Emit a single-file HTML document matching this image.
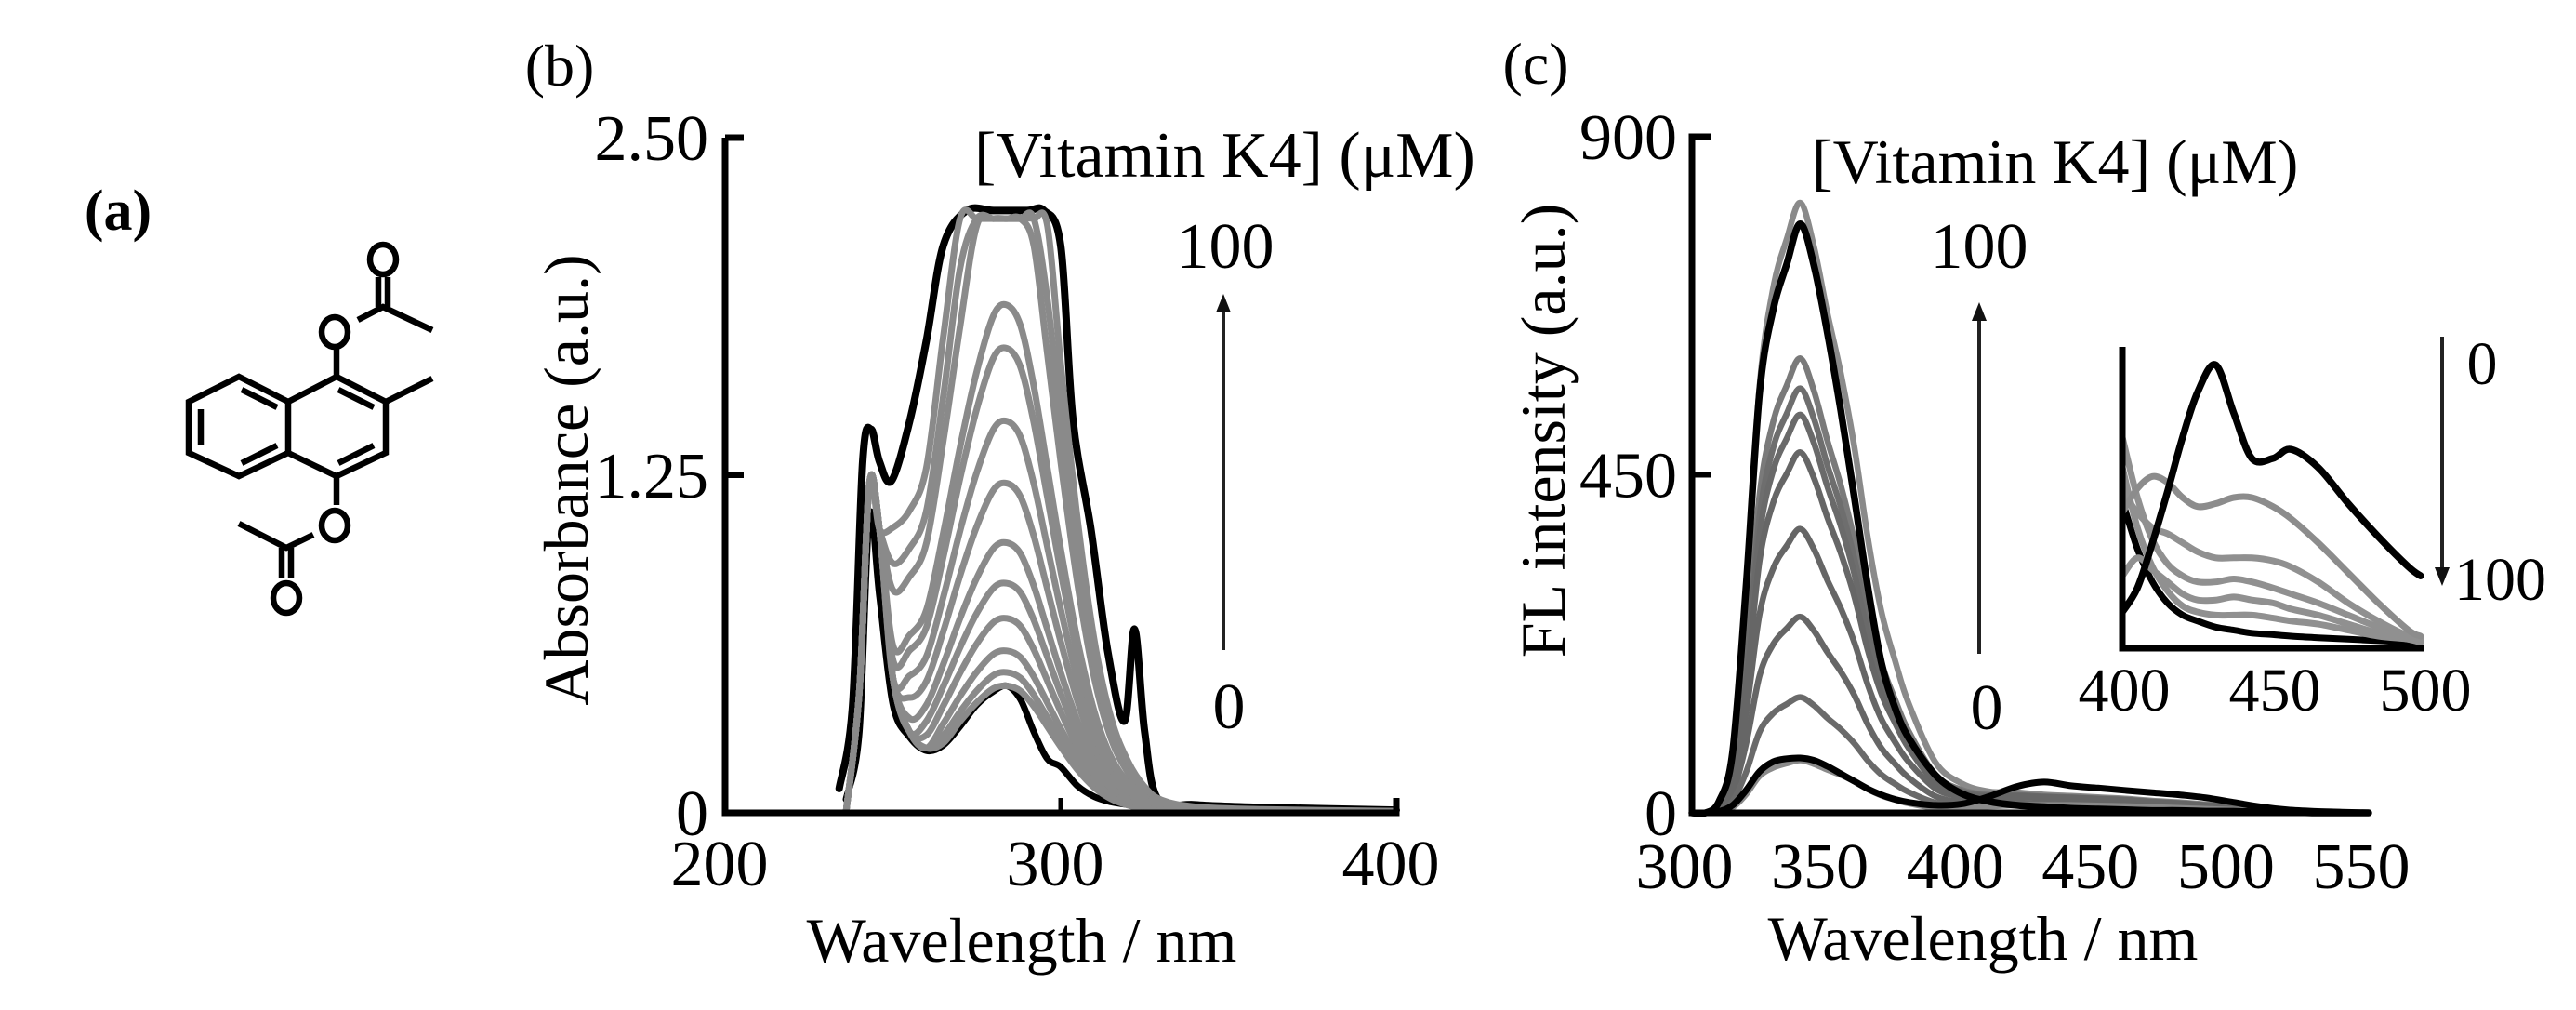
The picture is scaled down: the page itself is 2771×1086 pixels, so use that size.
<!DOCTYPE html>
<html><head><meta charset="utf-8"><style>
html,body{margin:0;padding:0;background:#fff;}
svg{display:block;font-family:"Liberation Serif",serif;}
</style></head><body>
<svg id="fig" width="2771" height="1086" viewBox="0 0 2771 1086" xmlns="http://www.w3.org/2000/svg">
<g id="struct" stroke="#000" stroke-width="6.5" fill="none" stroke-linecap="butt">
  <text x="127" y="247" font-size="62" font-weight="bold" text-anchor="middle" stroke="none" fill="#000">(a)</text>
  <polygon points="257,405 203,432 203,487 257,512 310,487 310,432"/>
  <polyline points="310,432 362,405 415,432 415,487 362,512 310,487"/>
  <line x1="260" y1="419" x2="298" y2="438"/>
  <line x1="216" y1="440" x2="216" y2="479"/>
  <line x1="260" y1="498" x2="298" y2="479"/>
  <line x1="364" y1="419" x2="402" y2="438"/>
  <line x1="364" y1="498" x2="402" y2="479"/>
  <line x1="415" y1="432" x2="465" y2="407"/>
  <line x1="362" y1="405" x2="362" y2="374"/>
  <ellipse cx="360" cy="357" rx="14" ry="16"/>
  <polyline points="385,344 412,330 465,355"/>
  <line x1="407" y1="330" x2="407" y2="298"/><line x1="417" y1="330" x2="417" y2="298"/>
  <ellipse cx="412" cy="279" rx="14" ry="16"/>
  <line x1="362" y1="512" x2="362" y2="543"/>
  <ellipse cx="360" cy="565" rx="14" ry="16"/>
  <polyline points="337,575 308,589 257,563"/>
  <line x1="303" y1="589" x2="303" y2="622"/><line x1="313" y1="589" x2="313" y2="622"/>
  <ellipse cx="308" cy="643" rx="14" ry="16"/>
</g>
<g id="panelB"></g>
<g id="panelC"></g>
<g id="inset"></g>
</svg>
<script>
// ---------- Panel (b) data ----------
const wlB = [236,240,243,246,250,255,260,265,270,275,280,284,288,292,296,300,305,310,315,320,325,330,340,360,400];
const profileB = [0,0.1,0.2,0.3,0.33,0.35,0.4,0.55,0.72,0.87,0.98,1,0.96,0.84,0.68,0.52,0.34,0.2,0.11,0.06,0.03,0.015,0.007,0.004,0.002];
const spikeB = [0,0.45,1.22,1.05,0.5,0.3,0.24,0,0,0,0,0,0,0,0,0,0,0,0,0,0,0,0,0,0];
const peaksB = [0.47,0.52,0.6,0.72,0.85,1.0,1.22,1.45,1.72,1.88,2.5,2.8,3.2];
const blackLowB = [0.05,0.3,1.1,0.8,0.4,0.28,0.23,0.25,0.32,0.4,0.45,0.47,0.42,0.3,0.2,0.17,0.1,0.06,0.04,0.03,0.02,0.01,0.01,0.01,0.01];
const wlBlackB = [234,238,241,243.5,246,249.6,255,260,265,272,280,290,295,300,303.6,309,314,319,322,325,329,340,360,400];
const blackHighB = [0.09,0.4,1.3,1.42,1.3,1.23,1.45,1.75,2.1,2.23,2.23,2.23,2.23,2.1,1.46,1.05,0.6,0.34,0.68,0.3,0.05,0.03,0.02,0.01];
const yTicksB = [0,1.25,2.5];
const yTickLabelsB = ["0","1.25","2.50"];
const xTicksB = [200,300,400];

// ---------- Panel (c) data ----------
const wlC = [300,305,310,315,320,325,330,335,340,345,350,355,360,365,370,375,380,390,400,410,420,430,440,450,460,470,480,490,500,510,520,530,540,550];
const profileC = [0,0,0.02,0.1,0.35,0.7,0.86,0.94,1,0.93,0.82,0.72,0.6,0.45,0.33,0.25,0.18,0.08,0.04,0.02,0.015,0.01,0.008,0.007,0.006,0.005,0.005,0.004,0.003,0.002,0.001,0.001,0,0];
const tailC = [0,0,0,0,0,0,0,0,0,0,0,0,0,0,0,0,0,2,6,12,15,16,16,15,14,12,10,8,6,4,2,1,0,0];
const peaksC = [812,605,565,530,480,378,261,154,70];
const blackHighC = [0,0,15,80,300,560,670,730,784,730,640,535,420,300,200,140,100,50,25,15,10,8,6,5,4,3,3,2,2,1,1,0,0,0];
const blackLowC = [0,0,2,10,30,55,68,72,73,70,62,52,42,32,24,18,14,10,12,22,35,41,36,33,30,27,24,20,14,8,4,2,1,0];
const yTicksC = [0,450,900];
const xTicksC = [300,350,400,450,500,550];

// ---------- Inset data ----------
const wlI = [400,405,410,415,420,425,431,437,443,450,456,465,475,485,495,499];
const insetBlackPeak = [0.12,0.2,0.35,0.52,0.7,0.85,0.94,0.78,0.63,0.63,0.66,0.6,0.48,0.37,0.27,0.24];
const insetBlackDecay = [0.49,0.33,0.22,0.15,0.11,0.09,0.07,0.06,0.05,0.045,0.04,0.035,0.03,0.025,0.02,0.02];
const insetG1 = [0.45,0.53,0.57,0.55,0.5,0.47,0.48,0.5,0.5,0.47,0.43,0.35,0.25,0.15,0.06,0.04];
const insetG2 = [0.52,0.45,0.4,0.38,0.35,0.32,0.3,0.3,0.3,0.29,0.27,0.22,0.15,0.09,0.04,0.03];
const insetG3 = [0.7,0.5,0.36,0.28,0.24,0.22,0.22,0.23,0.22,0.2,0.18,0.15,0.11,0.07,0.04,0.03];
const insetG4 = [0.24,0.3,0.26,0.22,0.18,0.16,0.16,0.17,0.16,0.15,0.13,0.11,0.08,0.05,0.03,0.02];
const insetG5 = [0.6,0.4,0.27,0.19,0.14,0.12,0.11,0.11,0.11,0.1,0.09,0.08,0.06,0.04,0.03,0.02];
const xTicksI = [400,450,500];

const NS = "http://www.w3.org/2000/svg";
function mk(parent, tag, attrs, text){
  const e = document.createElementNS(NS, tag);
  for (const k in attrs) e.setAttribute(k, attrs[k]);
  if (text !== undefined) e.textContent = text;
  parent.appendChild(e);
  return e;
}
function smoothPath(pts){
  let d = "M" + pts[0][0].toFixed(1) + "," + pts[0][1].toFixed(1);
  for (let i = 0; i < pts.length - 1; i++){
    const p0 = pts[i-1] || pts[i], p1 = pts[i], p2 = pts[i+1], p3 = pts[i+2] || p2;
    const c1 = [p1[0] + (p2[0]-p0[0])/6, p1[1] + (p2[1]-p0[1])/6];
    const c2 = [p2[0] - (p3[0]-p1[0])/6, p2[1] - (p3[1]-p1[1])/6];
    d += " C" + c1[0].toFixed(1)+","+c1[1].toFixed(1)+" "+c2[0].toFixed(1)+","+c2[1].toFixed(1)+" "+p2[0].toFixed(1)+","+p2[1].toFixed(1);
  }
  return d;
}
function curve(parent, xs, ys, xf, yf, color, w, name){
  const pts = xs.map((x,i)=>[xf(x), yf(ys[i])]);
  const p = mk(parent, "path", {d: smoothPath(pts), fill:"none", stroke:color, "stroke-width":w, "stroke-linejoin":"round", "stroke-linecap":"round"});
  
  
  return p;
}
function txt(parent, x, y, s, size, anchor, name, extra){
  const t = mk(parent, "text", Object.assign({x:x, y:y, "font-size":size, "text-anchor":anchor||"start", fill:"#000"}, extra||{}), s);
  
  
  return t;
}
function arrow(parent, x, y1, y2, name){
  const g = mk(parent, "g", {});
  
  
  const dir = y2 < y1 ? -1 : 1;
  mk(g, "line", {x1:x, y1:y1, x2:x, y2:y2 - dir*16, stroke:"#222", "stroke-width":4});
  mk(g, "polygon", {points: `${x},${y2} ${x-8},${y2-dir*20} ${x+8},${y2-dir*20}`, fill:"#111"});
}

// ---------- Panel (b) ----------
(function(){
  const g = document.getElementById("panelB");
  const X0=780, X1=1502, Y0=874, Y1=148;
  const xB = w => X0 + (w-200)*(X1-X0)/200;
  const yB = a => Y0 - a*(Y0-Y1)/2.5;
  txt(g, 602, 92, "(b)", 64, "middle", "panel-b-label");
  const cg = mk(g, "g", {});
  
  
  curve(cg, wlBlackB, blackHighB, xB, yB, "#000", 8, "absorbance-100uM");
  curve(cg, wlB, blackLowB, xB, yB, "#000", 7, "absorbance-0uM");
  peaksB.forEach((p,k)=>{
    const ys = wlB.map((w,i)=>Math.min(2.2, Math.max(spikeB[i], p*profileB[i])));
    curve(cg, wlB, ys, xB, yB, "#8a8a8a", 7, "absorbance-series-"+k);
  });
  const ax = mk(g, "path", {d:`M${X0},${Y1} H${X0+20} M${X0},${Y1} V${Y0} H${X1} V${Y0-16}`, fill:"none", stroke:"#000", "stroke-width":7});
  
  
  yTicksB.forEach((v,i)=>{
    if (i>0) mk(g, "line", {x1:X0, y1:yB(v), x2:X0+20, y2:yB(v), stroke:"#000", "stroke-width":6});
    txt(g, X0-18, yB(v)+24, yTickLabelsB[i], 70, "end", "y-tick-b-"+yTickLabelsB[i]);
  });
  xTicksB.forEach(v=>{
    if (v>200 && v<400) mk(g, "line", {x1:xB(v), y1:Y0, x2:xB(v), y2:Y0-16, stroke:"#000", "stroke-width":5});
    txt(g, xB(v)-6, 952, String(v), 70, "middle", "x-tick-b-"+v);
  });
  txt(g, 1099, 1034, "Wavelength / nm", 68, "middle", "x-axis-title-b");
  txt(g, 0, 0, "Absorbance (a.u.)", 68, "middle", "y-axis-title-b", {transform:"translate(632,516) rotate(-90)"});
  txt(g, 1048, 190, "[Vitamin K4] (μM)", 70, "start", "legend-title-b");
  txt(g, 1318, 288, "100", 70, "middle", "arrow-label-b-100");
  txt(g, 1322, 783, "0", 70, "middle", "arrow-label-b-0");
  arrow(g, 1316, 699, 316, "concentration-arrow-b");
})();

// ---------- Panel (c) ----------
(function(){
  const g = document.getElementById("panelC");
  const X0=1820, X1=2548, Y0=874, Y1=147;
  const xC = w => X0 + (w-300)*(X1-X0)/250;
  const yC = v => Y0 - v*(Y0-Y1)/900;
  txt(g, 1652, 90, "(c)", 64, "middle", "panel-c-label");
  const cg = mk(g, "g", {});
  
  
  const shades = ["#8a8a8a","#7a7a7a","#6e6e6e","#6a6a6a","#666","#666","#666","#6a6a6a","#8a8a8a"];
  peaksC.forEach((p,k)=>{
    const ys = wlC.map((w,i)=>p*profileC[i] + tailC[i]*(k<6?1:0.6));
    curve(cg, wlC, ys, xC, yC, shades[k], 6.5, "fluorescence-series-"+k);
  });
  curve(cg, wlC, blackLowC, xC, yC, "#000", 7, "fluorescence-0uM");
  curve(cg, wlC, blackHighC, xC, yC, "#000", 7.5, "fluorescence-100uM");
  const ax = mk(g, "path", {d:`M${X0+20},${Y1} H${X0} V${Y0} H${X1}`, fill:"none", stroke:"#000", "stroke-width":7});
  
  
  yTicksC.forEach((v,i)=>{
    if (i===1) mk(g, "line", {x1:X0, y1:yC(v), x2:X0+20, y2:yC(v), stroke:"#000", "stroke-width":6});
    txt(g, X0-16, yC(v)+24, String(v), 70, "end", "y-tick-c-"+v);
  });
  xTicksC.forEach(v=>{
    txt(g, xC(v)-8, 955, String(v), 70, "middle", "x-tick-c-"+v);
  });
  txt(g, 2133, 1032, "Wavelength / nm", 68, "middle", "x-axis-title-c");
  txt(g, 0, 0, "FL intensity (a.u.)", 68, "middle", "y-axis-title-c", {transform:"translate(1683,463) rotate(-90)"});
  txt(g, 1949, 197, "[Vitamin K4] (μM)", 68, "start", "legend-title-c");
  txt(g, 2129, 288, "100", 70, "middle", "arrow-label-c-100");
  txt(g, 2137, 784, "0", 70, "middle", "arrow-label-c-0");
  arrow(g, 2129, 703, 325, "concentration-arrow-c");
})();

// ---------- Inset ----------
(function(){
  const g = document.getElementById("inset");
  const X0=2283, X1=2607, Y0=697, Y1=373;
  const xI = w => X0 + (w-400)*(X1-X0)/100;
  const yI = v => Y0 - v*(Y0-Y1);
  const defs = mk(g, "defs", {});
  const cp = mk(defs, "clipPath", {id:"insetClip"});
  mk(cp, "rect", {x:X0, y:Y1-40, width:X1-X0+10, height:Y0-Y1+40});
  const cg = mk(g, "g", {"clip-path":"url(#insetClip)"});
  
  
  curve(cg, wlI, insetBlackDecay, xI, yI, "#000", 7, "inset-black-decay");
  [insetG4, insetG5, insetG3, insetG2, insetG1].forEach((s,k)=>{
    curve(cg, wlI, s, xI, yI, k===4 ? "#8c8c8c" : "#909090", 7, "inset-grey-"+k);
  });
  curve(cg, wlI, insetBlackPeak, xI, yI, "#000", 7.5, "inset-black-0uM");
  const ax = mk(g, "path", {d:`M${X0},${Y1} V${Y0} H${X1}`, fill:"none", stroke:"#000", "stroke-width":7});
  
  
  xTicksI.forEach(v=>{
    txt(g, xI(v)+2, 764, String(v), 66, "middle", "inset-x-tick-"+v);
  });
  arrow(g, 2627, 362, 630, "inset-arrow");
  txt(g, 2670, 413, "0", 66, "middle", "inset-arrow-label-0");
  txt(g, 2640, 645, "100", 66, "start", "inset-arrow-label-100");
})();
</script>
</body></html>
